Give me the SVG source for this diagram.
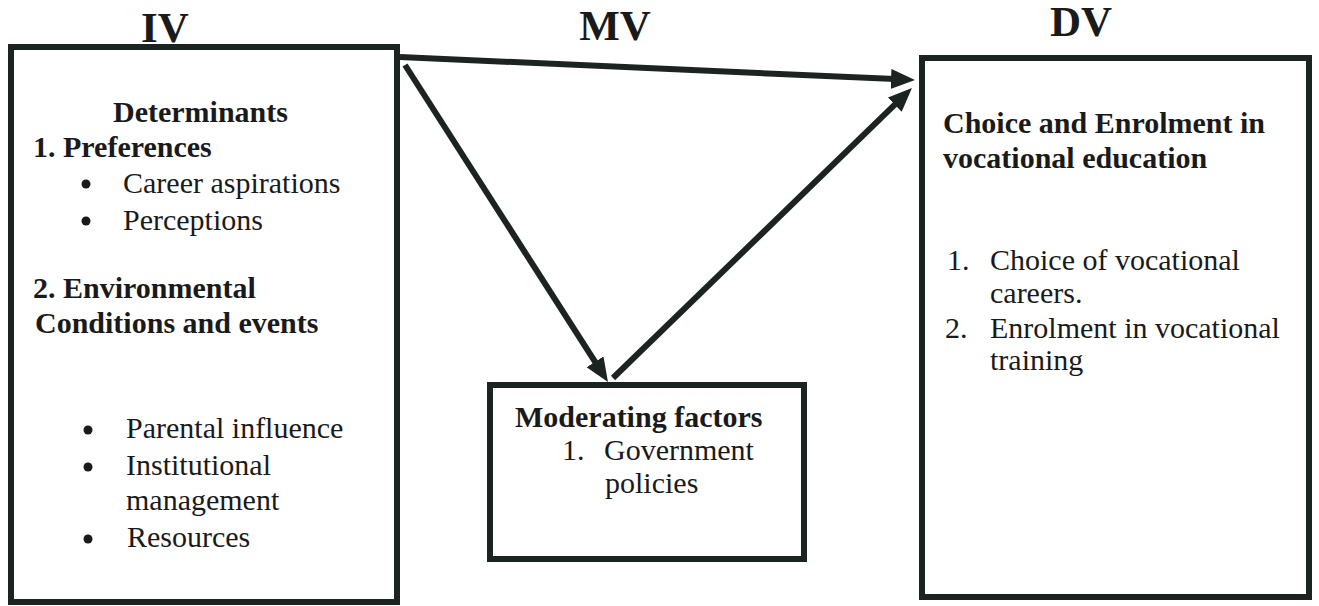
<svg xmlns="http://www.w3.org/2000/svg" width="1319" height="606" viewBox="0 0 1319 606">
<style>
.box{fill:none;stroke:#1b2421;stroke-width:6}
.t{font-family:"Liberation Serif","Times New Roman",serif;font-size:30px;fill:#1a1a1a}
.b{font-weight:bold}
.h{font-family:"Liberation Serif","Times New Roman",serif;font-size:43px;font-weight:bold;fill:#1a1a1a;text-anchor:middle}
.dot{fill:#1a1a1a}
.c{stroke:#1b2421;stroke-width:6;fill:none;marker-end:url(#ah)}
</style>
<defs>
<marker id="ah" markerUnits="userSpaceOnUse" markerWidth="24" markerHeight="22" refX="4" refY="10" orient="auto">
<path d="M0,0 L24,10 L0,20 z" fill="#1b2421"/>
</marker>
</defs>
<rect width="1319" height="606" fill="#ffffff"/>
<text class="h" x="165" y="42">IV</text>
<text class="h" x="615" y="40">MV</text>
<text class="h" x="1081" y="36">DV</text>
<g id="iv">
<rect class="box" x="11" y="47" width="386" height="555"/>
<text class="t b" x="113" y="122">Determinants</text>
<text class="t b" x="33" y="157">1. Preferences</text>
<circle class="dot" cx="86" cy="184" r="4.5"/><text class="t" x="123" y="193">Career aspirations</text>
<circle class="dot" cx="86" cy="221" r="4.5"/><text class="t" x="123" y="230">Perceptions</text>
<text class="t b" x="33" y="298">2. Environmental</text>
<text class="t b" x="35" y="333">Conditions and events</text>
<circle class="dot" cx="88" cy="430" r="4.5"/><text class="t" x="126" y="438">Parental influence</text>
<circle class="dot" cx="88" cy="467" r="4.5"/><text class="t" x="126" y="475">Institutional</text>
<text class="t" x="126" y="510">management</text>
<circle class="dot" cx="88" cy="539" r="4.5"/><text class="t" x="127" y="547">Resources</text>
</g>
<g id="mv">
<rect class="box" x="490" y="385" width="314" height="174"/>
<text class="t b" x="515" y="427">Moderating factors</text>
<text class="t" x="562" y="460">1.</text><text class="t" x="604" y="460">Government</text>
<text class="t" x="605" y="493">policies</text>
</g>
<g id="dv">
<rect class="box" x="922" y="58" width="387" height="539"/>
<text class="t b" x="943" y="133">Choice and Enrolment in</text>
<text class="t b" x="943" y="168">vocational education</text>
<text class="t" x="947" y="270">1.</text><text class="t" x="990" y="270">Choice of vocational</text>
<text class="t" x="990" y="303">careers.</text>
<text class="t" x="945" y="338">2.</text><text class="t" x="990" y="338">Enrolment in vocational</text>
<text class="t" x="990" y="370">training</text>
</g>
<g id="connectors">
<line class="c" x1="400" y1="57" x2="895" y2="79.1"/>
<line class="c" x1="405" y1="65" x2="597.2" y2="365.2"/>
<line class="c" x1="613" y1="378" x2="897.6" y2="101.9"/>
</g>
</svg>
